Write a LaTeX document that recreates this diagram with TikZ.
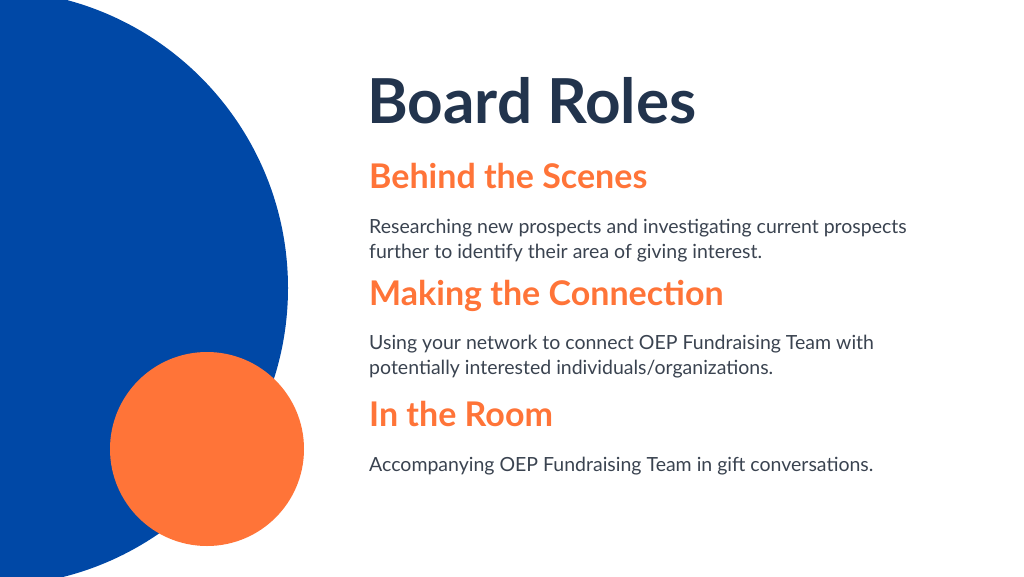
\documentclass[tikz,border=0pt]{standalone}
\usepackage{fontspec}
\setmainfont{Lato}
\usetikzlibrary{positioning}
\definecolor{oepblue}{HTML}{0048A6}
\definecolor{oeporange}{HTML}{FF7438}
\definecolor{oepnavy}{HTML}{22344D}
\definecolor{oeptext}{HTML}{3A4350}
\tikzset{
  heading/.style={anchor=base west, inner sep=0pt, text=oeporange, font=\fontsize{34}{40}\selectfont\bfseries},
  bodytext/.style={anchor=base west, inner sep=0pt, text=oeptext, font=\fontsize{19.5}{25}\selectfont, align=left},
}
\begin{document}
\begin{tikzpicture}[x=1pt,y=-1pt]
    % page
    \useasboundingbox (0,0) rectangle (1024,576);
    \fill[white] (0,0) rectangle (1024,576);

    % circles
    \fill[oepblue] (-10,288) circle (298);
    \fill[oeporange] (207,449) circle (97);

    % title
    \node[anchor=base west, inner sep=0pt, text=oepnavy, font=\fontsize{62}{68}\selectfont\bfseries] (title) at (367,123) {Board Roles};

    % roles
    \node[heading] (scenes) at (369,188) {Behind the Scenes};
    \node[bodytext] (scenestext) at (369,258) {Researching new prospects and investigating current prospects\\further to identify their area of giving interest.};
    \node[heading] (connect) at (369,305) {Making the Connection};
    \node[bodytext] (connecttext) at (369,374) {Using your network to connect OEP Fundraising Team with\\potentially interested individuals/organizations.};
    \node[heading] (room) at (369,426) {In the Room};
    \node[bodytext] (roomtext) at (369,471) {Accompanying OEP Fundraising Team in gift conversations.};
\end{tikzpicture}
\end{document}
